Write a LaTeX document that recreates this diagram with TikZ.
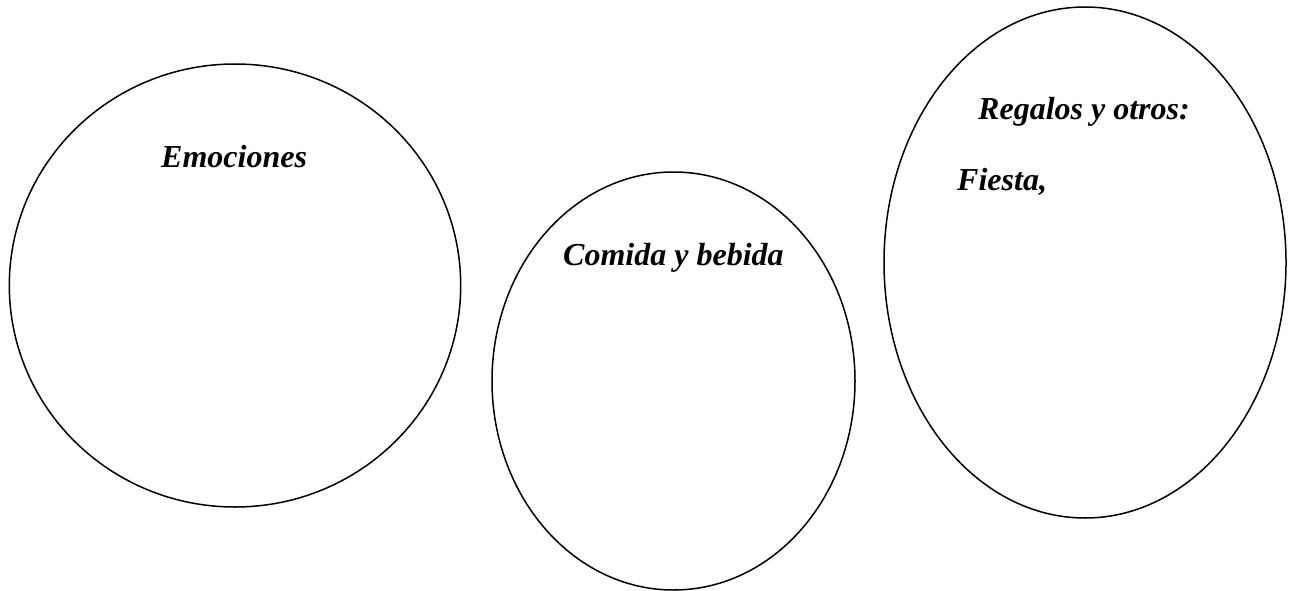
\documentclass[tikz,border=0pt]{standalone}
\usepackage{fontspec}
\setmainfont{Liberation Serif}
\usetikzlibrary{shapes.geometric}
\tikzset{
  bubble/.style={draw=black, line width=1.5pt, ellipse, inner sep=0pt, outer sep=0pt},
  label/.style={inner sep=0pt, anchor=base west, font=\fontsize{32}{38}\selectfont\bfseries\itshape}
}
\begin{document}
\begin{tikzpicture}[x=1pt, y=-1pt]
\useasboundingbox (0,0) rectangle (1289,591);
\node[bubble, minimum width=451.4pt, minimum height=443pt] (emo) at (235,285.5) {};
\node[bubble, minimum width=363pt, minimum height=418pt] (com) at (673.5,381) {};
\node[bubble, minimum width=402pt, minimum height=511pt] (reg) at (1085,262.5) {};
\node[label] (temo) at (161,167) {Emociones};
\node[label] (tcom) at (563,265) {Comida y bebida};
\node[label] (treg) at (978,120) {Regalos y otros:};
\node[label] (tfie) at (957,190) {Fiesta,};
\end{tikzpicture}
\end{document}
